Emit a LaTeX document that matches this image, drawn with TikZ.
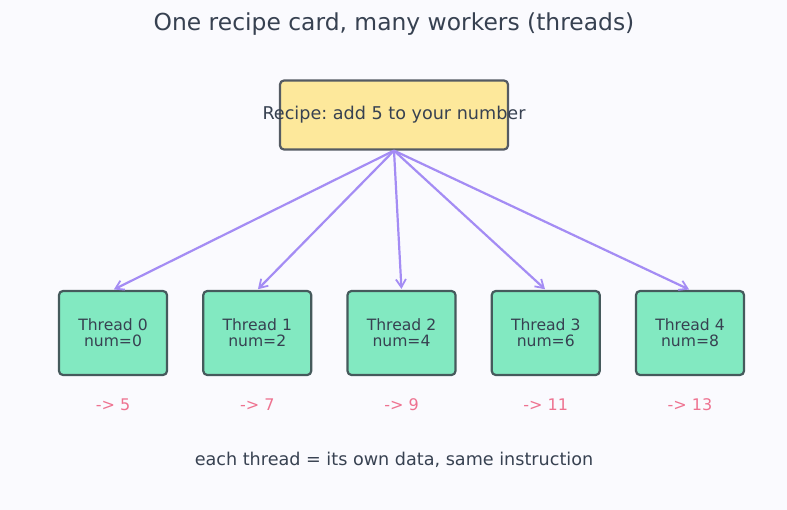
\documentclass[tikz,border=0pt]{standalone}
\usepackage{fontspec}
\setmainfont{DejaVu Sans}
\usetikzlibrary{arrows.meta}
\definecolor{bgpage}{HTML}{FAFAFE}
\definecolor{inktext}{HTML}{374151}
\definecolor{cardfill}{HTML}{FDE89B}
\definecolor{cardedge}{HTML}{555B63}
\definecolor{workfill}{HTML}{82E9C1}
\definecolor{workedge}{HTML}{455A5C}
\definecolor{fanarrow}{HTML}{A48CF4}
\definecolor{outcome}{HTML}{EE7290}
\frenchspacing

\begin{document}
\begin{tikzpicture}[x=1pt, y=-1pt,
    card/.style={rectangle, draw=cardedge, fill=cardfill, line width=2.2pt, rounded corners=4pt,
                 inner xsep=-17.5pt, minimum height=69pt, text=inktext, font=\fontsize{17.6}{20}\selectfont},
    worker/.style={rectangle, draw=workedge, fill=workfill, line width=2.2pt, rounded corners=4pt,
                   minimum width=108pt, minimum height=84pt, align=center, text=inktext,
                   font=\fontsize{15.6}{16}\selectfont},
    fan/.style={-{Straight Barb[length=8pt, width=10pt, line width=1.8pt]}, fanarrow, line width=2.2pt, shorten >=1pt}]
    % page
    \fill[bgpage] (0,0) rectangle (787,510);

    % title
    \node[text=inktext, font=\fontsize{23.4}{26}\selectfont] (title) at (394,24) {One recipe card, many workers (threads)};

    % the one instruction
    \node[card] (recipe) at (394,115) {Recipe: add 5 to your number};

    % workers with their own data
    \foreach \i in {0,...,4} {
        \pgfmathtruncatemacro{\num}{2*\i}
        \pgfmathtruncatemacro{\res}{5+2*\i}
        \node[worker] (t\i) at (113+144.25*\i,333) {Thread \i\\num=\num};
        \node[text=outcome, font=\fontsize{16}{18}\selectfont] (r\i) at (113+144.25*\i,405) {-> \res};
        \draw[fan] (recipe.south) -- (t\i.north);
    }

    % caption
    \node[text=inktext, font=\fontsize{17.6}{20}\selectfont] (note) at (394,460) {each thread = its own data, same instruction};
\end{tikzpicture}
\end{document}
